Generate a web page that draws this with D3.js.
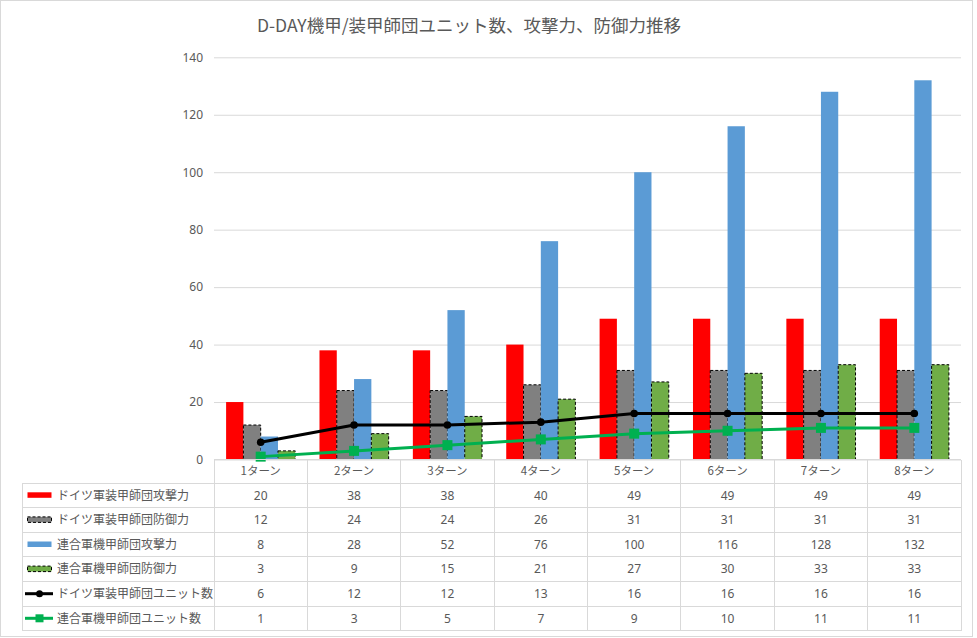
<!DOCTYPE html>
<html>
<head>
<meta charset="utf-8">
<script src="https://cdnjs.cloudflare.com/ajax/libs/d3/7.8.5/d3.min.js"></script>
<style>
	body { margin: 0; background: #fff; }
	svg { display: block; font-family: 'Noto Sans CJK JP', 'Noto Sans', sans-serif; }
</style>
</head>
<body>
<div id="chart"></div>
<script>
// Data

const title = 'D-DAY機甲/装甲師団ユニット数、攻撃力、防御力推移';
const turns = ['1ターン', '2ターン', '3ターン', '4ターン', '5ターン', '6ターン', '7ターン', '8ターン'];
const yTicks = [0, 20, 40, 60, 80, 100, 120, 140];

const deAttack = [20, 38, 38, 40, 49, 49, 49, 49];
const deDefense = [12, 24, 24, 26, 31, 31, 31, 31];
const alAttack = [8, 28, 52, 76, 100, 116, 128, 132];
const alDefense = [3, 9, 15, 21, 27, 30, 33, 33];
const deUnits = [6, 12, 12, 13, 16, 16, 16, 16];
const alUnits = [1, 3, 5, 7, 9, 10, 11, 11];

const barSeries = [
	{ name: 'ドイツ軍装甲師団攻撃力', values: deAttack, fill: '#FF0000', dashed: false },
	{ name: 'ドイツ軍装甲師団防御力', values: deDefense, fill: '#808080', dashed: true },
	{ name: '連合軍機甲師団攻撃力', values: alAttack, fill: '#5B9BD5', dashed: false },
	{ name: '連合軍機甲師団防御力', values: alDefense, fill: '#70AD47', dashed: true },
];
const lineSeries = [
	{ name: 'ドイツ軍装甲師団ユニット数', values: deUnits, color: '#000000', marker: 'circle' },
	{ name: '連合軍機甲師団ユニット数', values: alUnits, color: '#00B050', marker: 'square' },
];
const tableRows = [...barSeries, ...lineSeries];

// Measurements

const W = 977;
const H = 638;
const plot = { left: 214, right: 961, top: 57.3, bottom: 459.5 };
const headerH = 23.5;
const rowH = 24.6;
const legendLeft = 22;
const textColor = '#595959';
const gridColor = '#D9D9D9';

const svg = d3
	.select('#chart')
	.append('svg')
	.attr('width', W)
	.attr('height', H);

// outer border
svg.append('rect')
	.attr('x', 0.5)
	.attr('y', 0.5)
	.attr('width', 972)
	.attr('height', 636)
	.attr('fill', '#fff')
	.attr('stroke', gridColor);

// Scales

const xscale = d3
	.scaleBand()
	.domain(turns)
	.range([plot.left, plot.right])
	.padding(0);

const inner = d3
	.scaleBand()
	.domain(barSeries.map((d) => d.name))
	.range([0, xscale.bandwidth()])
	.paddingInner(0)
	.paddingOuter(0.7);

const yscale = d3
	.scaleLinear()
	.domain([0, 140])
	.range([plot.bottom, plot.top]);

// Title

svg.append('text')
	.attr('x', 469)
	.attr('y', 32)
	.attr('text-anchor', 'middle')
	.attr('fill', textColor)
	.style('font-size', '17.5px')
	.text(title);

// Grid + y axis

const leftAxis = d3
	.axisLeft(yscale)
	.tickValues(yTicks)
	.tickSize(-(plot.right - plot.left))
	.tickPadding(11);

const gy = svg.append('g')
	.attr('transform', `translate(${plot.left}, 0)`)
	.call(leftAxis);
gy.select('.domain').remove();
gy.selectAll('.tick line').attr('stroke', gridColor).attr('stroke-width', 1);
gy.selectAll('.tick text')
	.attr('fill', textColor)
	.style('font-size', '12px')
	.style('font-family', "'Noto Sans', sans-serif");

// Bars

barSeries.forEach((s) => {
	svg.append('g')
		.selectAll('rect')
		.data(s.values)
		.enter()
		.append('rect')
		.attr('x', (d, i) => xscale(turns[i]) + inner(s.name))
		.attr('y', (d) => yscale(d))
		.attr('width', inner.bandwidth())
		.attr('height', (d) => yscale(0) - yscale(d))
		.attr('fill', s.fill)
		.attr('stroke', s.dashed ? '#000' : 'none')
		.attr('stroke-width', s.dashed ? 1 : 0)
		.attr('stroke-dasharray', s.dashed ? '3,2' : null);
});

// Lines

const cx = (i) => xscale(turns[i]) + xscale.bandwidth() / 2;

lineSeries.slice().reverse().forEach((s) => {
	const line = d3
		.line()
		.x((d, i) => cx(i))
		.y((d) => yscale(d));

	svg.append('path')
		.datum(s.values)
		.attr('d', line)
		.attr('fill', 'none')
		.attr('stroke', s.color)
		.attr('stroke-width', 3)
		.attr('stroke-linejoin', 'round');

	if (s.marker === 'circle') {
		svg.append('g')
			.selectAll('circle')
			.data(s.values)
			.enter()
			.append('circle')
			.attr('cx', (d, i) => cx(i))
			.attr('cy', (d) => yscale(d))
			.attr('r', 3.8)
			.attr('fill', s.color);
	} else {
		svg.append('g')
			.selectAll('rect')
			.data(s.values)
			.enter()
			.append('rect')
			.attr('x', (d, i) => cx(i) - 5)
			.attr('y', (d) => yscale(d) - 5)
			.attr('width', 10)
			.attr('height', 10)
			.attr('fill', s.color);
	}
});

// Data table

const table = svg.append('g');
const tableTop = plot.bottom;
const rowsTop = tableTop + headerH;
const tableBottom = rowsTop + rowH * tableRows.length;

// horizontal lines
table.append('line')
	.attr('x1', plot.left).attr('x2', plot.right)
	.attr('y1', tableTop).attr('y2', tableTop);
d3.range(tableRows.length + 1).forEach((r) => {
	table.append('line')
		.attr('x1', legendLeft).attr('x2', plot.right)
		.attr('y1', rowsTop + r * rowH).attr('y2', rowsTop + r * rowH);
});
// vertical lines
table.append('line')
	.attr('x1', legendLeft).attr('x2', legendLeft)
	.attr('y1', rowsTop).attr('y2', tableBottom);
turns.forEach((t) => {
	table.append('line')
		.attr('x1', xscale(t)).attr('x2', xscale(t))
		.attr('y1', tableTop).attr('y2', tableBottom);
});
table.append('line')
	.attr('x1', plot.right).attr('x2', plot.right)
	.attr('y1', tableTop).attr('y2', tableBottom);
table.selectAll('line')
	.attr('stroke', gridColor)
	.attr('stroke-width', 1)
	.attr('shape-rendering', 'crispEdges');

// header labels
table.selectAll('text.head')
	.data(turns)
	.enter()
	.append('text')
	.attr('class', 'head')
	.attr('x', (d) => xscale(d) + xscale.bandwidth() / 2)
	.attr('y', tableTop + headerH / 2)
	.attr('dy', '0.35em')
	.attr('text-anchor', 'middle')
	.attr('fill', textColor)
	.style('font-size', '11.5px')
	.text((d) => d);

// rows
tableRows.forEach((s, r) => {
	const yMid = rowsTop + r * rowH + rowH / 2;

	// legend key
	if (s.fill) {
		table.append('rect')
			.attr('x', 27.5)
			.attr('y', yMid - 3)
			.attr('width', 24)
			.attr('height', 5.5)
			.attr('fill', s.fill)
			.attr('stroke', s.dashed ? '#000' : 'none')
			.attr('stroke-dasharray', s.dashed ? '3,2' : null);
	} else {
		table.append('line')
			.attr('x1', 25).attr('x2', 53)
			.attr('y1', yMid).attr('y2', yMid)
			.attr('stroke', s.color)
			.attr('stroke-width', 3);
		if (s.marker === 'circle') {
			table.append('circle')
				.attr('cx', 39.5).attr('cy', yMid).attr('r', 3.5)
				.attr('fill', s.color);
		} else {
			table.append('rect')
				.attr('x', 35.5).attr('y', yMid - 4)
				.attr('width', 8).attr('height', 8)
				.attr('fill', s.color);
		}
	}

	table.append('text')
		.attr('x', 57)
		.attr('y', yMid)
		.attr('dy', '0.35em')
		.attr('fill', textColor)
		.style('font-size', '12px')
		.text(s.name);

	table.append('g')
		.selectAll('text')
		.data(s.values)
		.enter()
		.append('text')
		.attr('x', (d, i) => cx(i))
		.attr('y', yMid)
		.attr('dy', '0.35em')
		.attr('text-anchor', 'middle')
		.attr('fill', textColor)
		.style('font-size', '12px')
		.style('font-family', "'Noto Sans', sans-serif")
		.text((d) => d);
});
</script>
</body>
</html>
